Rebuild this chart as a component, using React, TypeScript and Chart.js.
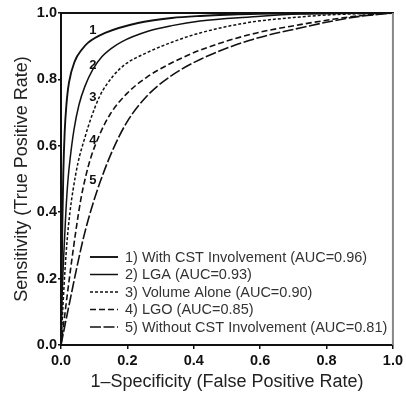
import React, { useEffect, useRef } from "react";
import { Chart, registerables } from "chart.js";

Chart.register(...registerables);

// ----- data -----
const seriesLabels = [
  "1) With CST Involvement (AUC=0.96)",
  "2) LGA (AUC=0.93)",
  "3) Volume Alone (AUC=0.90)",
  "4) LGO (AUC=0.85)",
  "5) Without CST Involvement (AUC=0.81)",
];
const curveNumbers = ["1", "2", "3", "4", "5"];

const fpr1 = [0, 0.002, 0.004, 0.007, 0.011, 0.016, 0.024, 0.042, 0.063, 0.081, 0.133, 0.232, 0.334, 0.419, 0.569, 1];
const tpr1 = [0, 0.2, 0.36, 0.52, 0.64, 0.72, 0.79, 0.856, 0.89, 0.91, 0.94, 0.97, 0.985, 0.991, 0.997, 1];

const fpr2 = [0, 0.003, 0.009, 0.015, 0.021, 0.027, 0.039, 0.054, 0.072, 0.096, 0.123, 0.154, 0.184, 0.262, 0.334, 0.419, 0.569, 0.72, 1];
const tpr2 = [0, 0.136, 0.286, 0.407, 0.497, 0.557, 0.648, 0.723, 0.779, 0.83, 0.868, 0.895, 0.914, 0.945, 0.962, 0.976, 0.988, 0.997, 1];

const fpr3 = [0, 0.006, 0.012, 0.018, 0.027, 0.036, 0.051, 0.072, 0.09, 0.117, 0.157, 0.193, 0.262, 0.334, 0.419, 0.569, 0.72, 0.819, 1];
const tpr3 = [0, 0.12, 0.225, 0.31, 0.4, 0.465, 0.548, 0.625, 0.682, 0.75, 0.81, 0.845, 0.882, 0.912, 0.94, 0.972, 0.988, 0.995, 1];

const fpr4 = [0, 0.01, 0.02, 0.03, 0.045, 0.06, 0.075, 0.09, 0.117, 0.148, 0.199, 0.259, 0.328, 0.419, 0.569, 0.72, 0.819, 0.901, 1];
const tpr4 = [0, 0.08, 0.16, 0.237, 0.345, 0.44, 0.51, 0.565, 0.635, 0.695, 0.758, 0.807, 0.847, 0.888, 0.935, 0.965, 0.981, 0.992, 1];

const fpr5 = [0, 0.015, 0.03, 0.048, 0.069, 0.093, 0.123, 0.157, 0.199, 0.259, 0.328, 0.419, 0.569, 0.72, 0.819, 0.901, 1];
const tpr5 = [0, 0.075, 0.148, 0.235, 0.328, 0.415, 0.505, 0.59, 0.672, 0.75, 0.808, 0.86, 0.918, 0.955, 0.976, 0.99, 1];

const xTicks = [0, 0.2, 0.4, 0.6, 0.8, 1.0];
const yTicks = [0, 0.2, 0.4, 0.6, 0.8, 1.0];

// curve number annotations (data coordinates)
const numberX = [0.096, 0.096, 0.096, 0.096, 0.096];
const numberY = [0.949, 0.843, 0.747, 0.617, 0.497];

const fprs = [fpr1, fpr2, fpr3, fpr4, fpr5];
const tprs = [tpr1, tpr2, tpr3, tpr4, tpr5];

// ----- styles -----
const dashes: number[][] = [[], [], [3, 2], [6, 3], [11, 2.5]];
const widths = [1.9, 1.5, 1.5, 1.6, 1.6];
const FONT = "'Liberation Sans', Arial, Helvetica, sans-serif";

const framePlugin = {
  id: "frameAndLabels",
  afterDatasetsDraw(chart: any) {
    const { ctx, chartArea, scales } = chart;
    const { left, right, top, bottom } = chartArea;
    ctx.save();
    ctx.strokeStyle = "#111";
    ctx.lineWidth = 2;
    ctx.beginPath();
    ctx.moveTo(left, top);
    ctx.lineTo(right + 1, top);
    ctx.stroke();
    ctx.strokeStyle = "#888";
    ctx.lineWidth = 2;
    ctx.beginPath();
    ctx.moveTo(right, top);
    ctx.lineTo(right, bottom);
    ctx.stroke();

    ctx.fillStyle = "#111";
    ctx.font = `bold 13px ${FONT}`;
    ctx.textAlign = "center";
    ctx.textBaseline = "middle";
    for (let i = 0; i < curveNumbers.length; i++) {
      const px = scales.x.getPixelForValue(numberX[i]);
      const py = scales.y.getPixelForValue(numberY[i]);
      ctx.fillText(curveNumbers[i], px, py);
    }

    const sx0 = left + 29;
    const sx1 = left + 57;
    const tx = left + 64;
    const baseY = bottom - 88;
    const step = 17.5;
    ctx.font = `14.5px ${FONT}`;
    ctx.textAlign = "left";
    ctx.textBaseline = "middle";
    chart.data.datasets.forEach((ds: any, i: number) => {
      const y = baseY + i * step;
      ctx.strokeStyle = "#111";
      ctx.lineWidth = ds.borderWidth;
      ctx.setLineDash(ds.borderDash || []);
      ctx.beginPath();
      ctx.moveTo(sx0, y);
      ctx.lineTo(sx1, y);
      ctx.stroke();
      ctx.setLineDash([]);
      ctx.fillStyle = "#333";
      ctx.fillText(ds.label, tx, y + 0.5);
    });
    ctx.restore();
  },
};

export default function App() {
  const ref = useRef<HTMLCanvasElement | null>(null);
  useEffect(() => {
    if (!ref.current) return;
    const datasets = fprs.map((fx, i) => ({
      label: seriesLabels[i],
      data: fx.map((x, j) => ({ x, y: tprs[i][j] })),
      borderColor: "#111",
      borderWidth: widths[i],
      borderDash: dashes[i],
      pointRadius: 0,
      fill: false,
      cubicInterpolationMode: "monotone" as const,
    }));
    const chart = new Chart(ref.current, {
      type: "line",
      data: { datasets },
      options: {
        animation: false,
        responsive: false,
        events: [],
        layout: { padding: { left: 0, top: 13, right: 12, bottom: 0 } },
        plugins: { legend: { display: false }, tooltip: { enabled: false } },
        scales: {
          x: {
            type: "linear",
            min: 0,
            max: 1,
            afterFit: (s: any) => {
              s.height = 56;
            },
            afterBuildTicks: (s: any) => {
              s.ticks = xTicks.map((v) => ({ value: v }));
            },
            ticks: {
              color: "#111",
              font: { family: FONT, size: 14.5, weight: "bold" },
              padding: 3,
              maxRotation: 0,
              callback: (v: any) => Number(v).toFixed(1),
            },
            grid: { display: true, drawOnChartArea: false, drawTicks: true, tickLength: 4, color: "#111", lineWidth: 1.5 },
            border: { display: true, color: "#111", width: 2 },
            title: {
              display: true,
              text: "1\u2013Specificity (False Positive Rate)",
              color: "#222",
              font: { family: FONT, size: 18 },
              padding: { top: 0, bottom: 8 },
            },
          },
          y: {
            type: "linear",
            min: 0,
            max: 1,
            afterFit: (s: any) => {
              s.width = 61;
            },
            afterBuildTicks: (s: any) => {
              s.ticks = yTicks.map((v) => ({ value: v }));
            },
            ticks: {
              color: "#111",
              font: { family: FONT, size: 14.5, weight: "bold" },
              padding: 1,
              callback: (v: any) => Number(v).toFixed(1),
            },
            grid: { display: true, drawOnChartArea: false, drawTicks: true, tickLength: 3, color: "#111", lineWidth: 1.5 },
            border: { display: true, color: "#111", width: 2 },
            title: {
              display: true,
              text: "Sensitivity (True Positive Rate)",
              color: "#222",
              font: { family: FONT, size: 18 },
              padding: { top: 11, bottom: 0 },
            },
          },
        },
      },
      plugins: [framePlugin],
    });
    return () => chart.destroy();
  }, []);
  return (
    <div style={{ position: "fixed", left: 0, top: 0, width: 406, height: 401, background: "#fff" }}>
      <canvas ref={ref} width={406} height={401} />
    </div>
  );
}
